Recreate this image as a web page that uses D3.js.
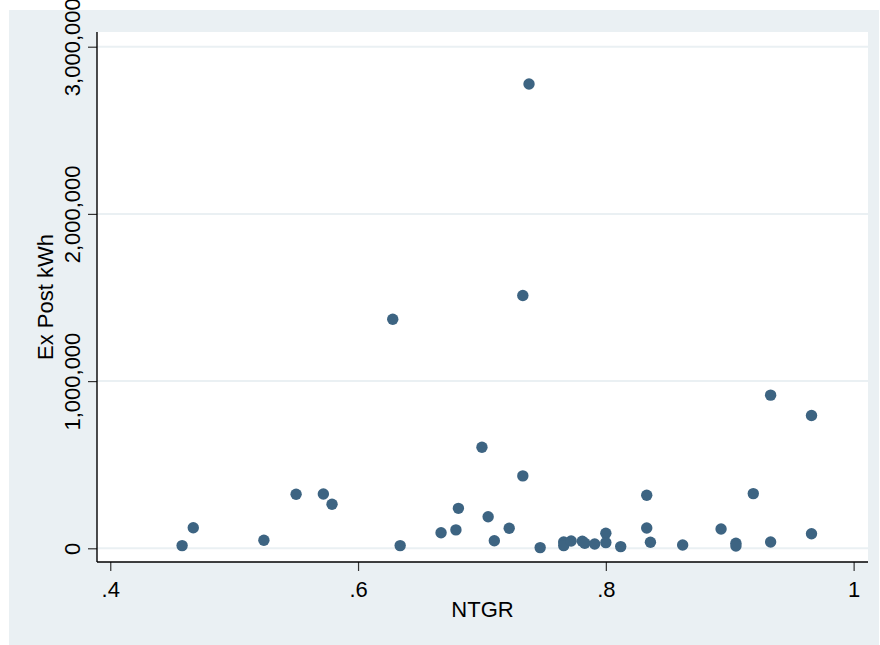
<!DOCTYPE html>
<html lang="en">
<head>
    <meta charset="UTF-8">
    <title>Ex Post kWh vs NTGR</title>
    <script src="https://d3js.org/d3.v7.min.js"></script>
    <style>
        body { margin: 0; background: #ffffff; }
        svg text { font-family: "Liberation Sans", Arial, sans-serif; fill: #000; }
    </style>
</head>
<body>
    <div id="chart"></div>
    <script>
        // data
        const ntgr = [0.458, 0.467, 0.524, 0.550, 0.572, 0.579, 0.628, 0.634, 0.667, 0.679,
            0.681, 0.700, 0.705, 0.710, 0.722, 0.733, 0.733, 0.738, 0.747, 0.766,
            0.766, 0.772, 0.781, 0.783, 0.791, 0.800, 0.800, 0.812, 0.833, 0.833,
            0.836, 0.862, 0.893, 0.905, 0.905, 0.919, 0.933, 0.933, 0.966, 0.966];
        const exPostKwh = [16000, 123000, 48000, 323000, 325000, 263000, 1370000, 16000, 93000, 110000,
            239000, 604000, 189000, 45000, 120000, 1512000, 433000, 2777000, 4000, 38000,
            16000, 44000, 42000, 30000, 26000, 90000, 34000, 10000, 317000, 121000,
            36000, 20000, 115000, 30000, 14000, 327000, 38000, 916000, 87000, 794000];
        const xTicks = [0.4, 0.6, 0.8, 1];
        const yTicks = [0, 1000000, 2000000, 3000000];
        const xTitle = "NTGR";
        const yTitle = "Ex Post kWh";

        const width = 880, height = 645;
        const plot = { left: 97, right: 868, top: 32, bottom: 562 };
        const bgColor = "#eaf0f3", dotColor = "#3d6482";
        const fontSize = "22px";

        const svg = d3.select("#chart").append("svg")
            .attr("width", width)
            .attr("height", height);

        // graph region background
        svg.append("rect")
            .attr("x", 9).attr("y", 10)
            .attr("width", 870).attr("height", 635)
            .attr("fill", bgColor);

        // plot region
        svg.append("rect")
            .attr("x", plot.left).attr("y", plot.top)
            .attr("width", plot.right - plot.left)
            .attr("height", plot.bottom - plot.top)
            .attr("fill", "#ffffff");

        const x = d3.scaleLinear().domain([0.3893, 1.0116]).range([plot.left, plot.right]);
        const y = d3.scaleLinear().domain([-82000, 3088000]).range([plot.bottom, plot.top]);

        // gridlines
        svg.selectAll(".grid").data(yTicks).enter().append("line")
            .attr("class", "grid")
            .attr("x1", plot.left).attr("x2", plot.right)
            .attr("y1", d => y(d)).attr("y2", d => y(d))
            .attr("stroke", bgColor)
            .attr("stroke-width", 2);

        // points
        const points = ntgr.map((v, i) => ({ x: v, y: exPostKwh[i] }));
        svg.selectAll(".dot").data(points).enter().append("circle")
            .attr("class", "dot")
            .attr("cx", d => x(d.x))
            .attr("cy", d => y(d.y))
            .attr("r", 5.7)
            .attr("fill", dotColor);

        // x axis
        const xFmt = d => d === 1 ? "1" : d3.format(".1f")(d).replace(/^0/, "");
        const xAxis = svg.append("g")
            .attr("transform", `translate(0,${plot.bottom})`)
            .call(d3.axisBottom(x).tickValues(xTicks).tickFormat(xFmt).tickSize(9).tickSizeOuter(0));
        xAxis.select(".domain").remove();
        xAxis.selectAll(".tick line").attr("stroke", "#333").attr("stroke-width", 1.2);
        xAxis.selectAll(".tick text")
            .attr("y", 35).attr("dy", 0)
            .style("font-size", fontSize);

        // y axis
        const yAxis = svg.append("g")
            .attr("transform", `translate(${plot.left},0)`)
            .call(d3.axisLeft(y).tickValues(yTicks).tickFormat(d3.format(",")).tickSize(9).tickSizeOuter(0));
        yAxis.select(".domain").remove();
        yAxis.selectAll(".tick line").attr("stroke", "#333").attr("stroke-width", 1.2);
        yAxis.selectAll(".tick text")
            .attr("x", 0).attr("y", 0).attr("dy", 0)
            .attr("transform", "translate(-17,0) rotate(-90)")
            .attr("text-anchor", "middle")
            .style("font-size", fontSize);

        // axis lines
        svg.append("line")
            .attr("x1", plot.left).attr("x2", plot.left)
            .attr("y1", plot.top).attr("y2", plot.bottom)
            .attr("stroke", "#000").attr("stroke-width", 1.4);
        svg.append("line")
            .attr("x1", plot.left).attr("x2", plot.right)
            .attr("y1", plot.bottom).attr("y2", plot.bottom)
            .attr("stroke", "#000").attr("stroke-width", 1.4);

        // titles
        svg.append("text")
            .attr("x", (plot.left + plot.right) / 2)
            .attr("y", 617)
            .attr("text-anchor", "middle")
            .style("font-size", fontSize)
            .text(xTitle);

        svg.append("text")
            .attr("transform", `translate(53,${(plot.top + plot.bottom) / 2}) rotate(-90)`)
            .attr("text-anchor", "middle")
            .style("font-size", fontSize)
            .text(yTitle);
    </script>
</body>
</html>
